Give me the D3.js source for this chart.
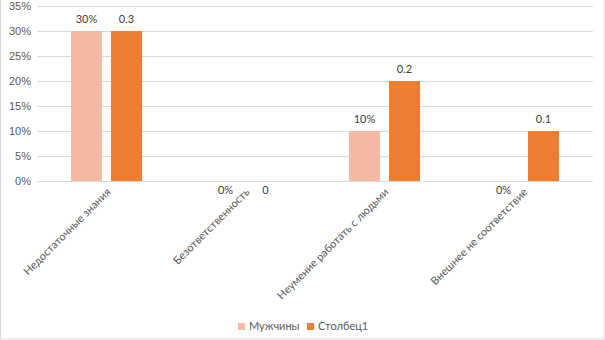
<!DOCTYPE html>
<html>
<head>
<meta charset="utf-8">
<script src="https://cdn.jsdelivr.net/npm/d3@7"></script>
<style>
  html, body { margin: 0; padding: 0; background: #fff; }
  svg { display: block; font-family: Lato, "Liberation Sans", sans-serif; }
</style>
</head>
<body>
<svg id="chart" width="605" height="340"></svg>
<script>
const categories = ["Недостаточные знания", "Безответственность", "Неумение работать с людьми", "Внешнее не соответствие"];
const seriesNames = ["Мужчины", "Столбец1"];
const men = [0.30, 0, 0.10, 0];
const column1 = [0.3, 0, 0.2, 0.1];
const yTicks = [0, 0.05, 0.10, 0.15, 0.20, 0.25, 0.30, 0.35];
const colors = ["#F4B9A3", "#ED7D31"];

const W = 605, H = 340;
const margin = { left: 37, right: 12, top: 6, bottom: 159 };
const svg = d3.select("#chart");

// chart frame
svg.append("rect")
  .attr("x", 0.5).attr("y", -1).attr("width", W - 1.5).attr("height", H)
  .attr("fill", "none").attr("stroke", "#d9d9d9");

const x = d3.scaleBand().domain(categories)
  .range([margin.left, W - margin.right]);
const y = d3.scaleLinear().domain([0, 0.35])
  .range([H - margin.bottom, margin.top]);

const inner = d3.scaleBand().domain(seriesNames)
  .range([0, x.bandwidth()]).paddingOuter(0.85).paddingInner(0.225);

// gridlines and y axis
const yAxis = d3.axisLeft(y).tickValues(yTicks)
  .tickFormat(d3.format(".0%")).tickSize(-(W - margin.left - margin.right)).tickPadding(6);
const gy = svg.append("g").attr("transform", `translate(${margin.left},0)`).call(yAxis);
gy.select(".domain").remove();
gy.selectAll(".tick line").attr("stroke", "#d9d9d9");
gy.selectAll(".tick text").attr("fill", "#595959").style("font-size", "11px");

// bars
const series = [men, column1];
const fmt = [d3.format(".0%"), d => String(d)];
series.forEach((vals, si) => {
  const g = svg.append("g");
  g.selectAll("rect").data(vals).join("rect")
    .attr("x", (d, i) => x(categories[i]) + inner(seriesNames[si]))
    .attr("width", inner.bandwidth())
    .attr("y", d => y(d))
    .attr("height", d => y(0) - y(d))
    .attr("fill", colors[si]);
  g.selectAll("text").data(vals).join("text")
    .attr("x", (d, i) => x(categories[i]) + inner(seriesNames[si]) + inner.bandwidth() / 2)
    .attr("y", d => d === 0 ? y(0) + 13 : y(d) - 8)
    .attr("text-anchor", "middle")
    .attr("fill", "#404040")
    .style("font-size", "11px")
    .text(d => fmt[si](d));
});

// category labels, rotated
svg.append("g").selectAll("text").data(categories).join("text")
  .attr("transform", d => `translate(${x(d) + x.bandwidth() / 2 + 2},${y(0) + 9}) rotate(-45)`)
  .attr("text-anchor", "end")
  .attr("dy", "0.35em")
  .attr("fill", "#595959")
  .style("font-size", "11px")
  .text(d => d);

// legend
const legend = svg.append("g");
const lx = [238, 307];
seriesNames.forEach((n, i) => {
  legend.append("rect").attr("x", lx[i]).attr("y", 323).attr("width", 7).attr("height", 7).attr("fill", colors[i]);
  legend.append("text").attr("x", lx[i] + 11).attr("y", 330)
    .attr("fill", "#595959").style("font-size", "11px").text(n);
});
</script>
</body>
</html>
